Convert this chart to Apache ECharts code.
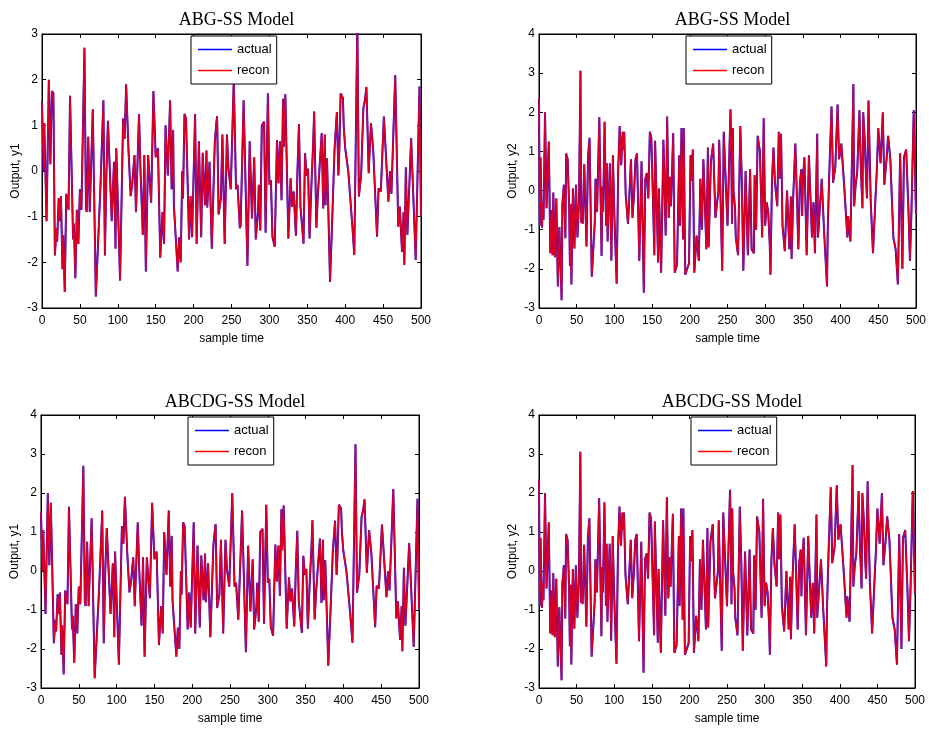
<!DOCTYPE html>
<html>
<head>
<meta charset="utf-8">
<script src="https://cdn.jsdelivr.net/npm/echarts@6/dist/echarts.min.js"></script>
<style>
html,body{margin:0;padding:0;background:#fff;}
#chart{width:929px;height:732px;}
</style>
</head>
<body>
<div id="chart"></div>
<script>
// ---- data (sample time, value) ----
var titles = ['ABG-SS Model', 'ABG-SS Model', 'ABCDG-SS Model', 'ABCDG-SS Model'];
var yNames = ['Output, y1', 'Output, y2', 'Output, y1', 'Output, y2'];
var xTicks = [0, 500, 50];
var yRanges = [[-3, 3], [-3, 4], [-3, 4], [-3, 4]];

var actualY1 = [[0,1.5],[2,0.0],[3,1.05],[6,-1.1],[9,2.0],[11,0.15],[13,1.75],[15,1.7],[17,-1.85],[19,-1.25],[20,-1.55],[22,-0.6],[23,-1.1],[25,-0.55],[27,-2.15],[28,-1.4],[30,-2.65],[32,-0.5],[35,-0.85],[37,1.65],[41,-1.5],[42,-1.15],[44,-2.35],[46,-0.85],[48,-1.6],[50,-0.4],[52,-0.85],[56,2.7],[58,-0.8],[59,-0.9],[61,0.75],[63,-0.9],[67,1.35],[71,-2.75],[77,-0.4],[81,1.55],[83,-1.85],[85,0.0],[87,1.1],[92,-1.1],[95,0.2],[97,-1.7],[98,0.5],[103,-2.4],[107,1.15],[109,0.7],[111,1.9],[114,0.5],[117,-0.55],[119,-0.3],[122,0.35],[124,-0.9],[128,1.25],[130,0.0],[133,-1.4],[135,0.35],[137,-2.2],[140,0.35],[144,-0.7],[147,1.75],[150,0.3],[153,0.5],[156,-1.9],[159,-0.9],[161,-1.6],[163,1.0],[166,-0.1],[169,1.55],[171,-0.4],[173,0.9],[174,-0.75],[179,-2.2],[181,-1.45],[183,-2.0],[185,0.0],[186,-0.6],[188,1.25],[190,1.15],[194,-1.5],[196,-0.55],[198,-1.45],[202,1.25],[204,-1.6],[207,0.65],[210,-1.45],[212,0.4],[215,-0.75],[217,0.45],[218,-0.8],[221,0.2],[224,-1.7],[228,0.65],[230,1.05],[231,1.2],[233,-0.95],[236,-0.6],[238,0.8],[241,-1.6],[244,0.8],[246,0.05],[249,-0.4],[253,2.0],[256,-0.4],[258,-0.3],[261,-1.25],[262,-1.2],[266,1.55],[271,-2.08],[274,0.65],[277,-1.04],[280,0.3],[282,-1.5],[285,-0.9],[286,-0.3],[288,-1.3],[290,1.0],[293,1.08],[295,-1.35],[298,1.7],[300,-0.3],[302,-0.2],[304,-1.44],[307,-1.66],[310,0.68],[312,-0.27],[314,0.65],[316,-0.64],[318,1.58],[319,0.53],[321,1.68],[325,-1.48],[326,-1.5],[328,-0.16],[330,-0.78],[332,-0.45],[335,-1.42],[337,0.0],[339,1.03],[341,-0.78],[345,-1.59],[347,0.39],[349,-0.1],[351,0.05],[353,-1.48],[355,-0.5],[358,0.72],[359,1.3],[362,-1.24],[364,-0.5],[369,0.83],[371,-0.82],[373,0.8],[374,-0.75],[376,0.28],[378,-1.04],[380,-2.43],[383,-1.0],[386,0.5],[389,1.29],[391,-0.1],[392,0.3],[394,1.7],[397,1.6],[398,1.0],[400,0.5],[404,0.0],[409,-1.1],[412,-1.84],[416,3.25],[418,-0.56],[421,-0.1],[424,1.38],[426,1.55],[428,1.84],[431,-0.05],[434,1.05],[437,0.45],[442,-1.44],[444,-0.38],[447,-0.45],[451,1.19],[453,1.15],[457,-0.67],[459,0.0],[461,-0.5],[466,2.1],[470,-1.22],[472,-0.78],[475,-1.77],[477,-0.9],[478,-2.06],[480,0.08],[482,-1.4],[485,-0.15],[487,0.72],[493,-1.95],[498,1.85],[500,-1.0]];

var actualY2 = [[0,2.35],[1,-0.9],[2,0.85],[4,-0.95],[5,-0.3],[6,-0.75],[8,2.0],[10,-0.45],[13,1.25],[15,-1.6],[17,-0.5],[18,-1.65],[19,-0.05],[21,-1.7],[23,-0.2],[25,-2.45],[27,-0.93],[30,-2.8],[31,-0.35],[33,0.15],[35,-1.22],[36,0.95],[38,0.8],[40,-0.4],[41,-1.93],[42,-0.35],[43,-2.4],[45,0.05],[47,-1.48],[49,0.15],[51,-1.2],[53,-0.3],[55,3.06],[56,-0.82],[57,-0.4],[58,-0.85],[60,0.67],[63,-1.43],[65,0.85],[67,1.35],[70,-2.2],[72,-2.2],[74,-0.8],[75,0.3],[77,-0.55],[80,1.87],[83,-1.67],[84,0.1],[85,-0.55],[87,1.76],[89,-0.9],[90,0.7],[91,-1.3],[94,0.7],[96,-1.79],[98,0.9],[100,-0.65],[103,-2.38],[105,0.5],[107,1.65],[109,0.65],[111,1.5],[112,1.05],[113,1.5],[115,-0.1],[118,-0.85],[119,-0.5],[122,0.8],[124,-0.7],[126,-0.1],[128,0.8],[130,0.95],[133,-1.8],[136,0.75],[139,-2.61],[141,0.3],[143,0.45],[145,-0.2],[147,1.5],[149,1.35],[151,-0.1],[153,-1.65],[154,1.27],[158,-1.84],[159,0.05],[162,-2.1],[165,1.3],[168,-1.15],[170,1.89],[172,-0.7],[174,0.35],[175,-0.4],[178,1.47],[180,-2.1],[183,-1.9],[186,0.9],[187,-0.9],[189,1.6],[191,-1.25],[192,1.6],[194,-2.15],[199,-1.85],[201,0.9],[202,0.25],[204,1.05],[206,-2.1],[209,-1.15],[212,-1.8],[214,0.3],[216,-1.0],[218,0.8],[222,-1.5],[224,1.1],[225,-1.45],[228,0.75],[231,1.2],[234,-0.7],[236,-0.65],[238,0.0],[239,1.3],[243,-2.05],[245,1.5],[250,-0.9],[254,2.08],[255,0.95],[256,-0.85],[257,1.6],[258,0.0],[260,-0.45],[261,-1.2],[264,-1.65],[267,1.65],[269,0.25],[271,-2.05],[274,0.5],[277,-1.65],[280,0.55],[282,-1.5],[285,-1.6],[286,0.4],[288,-1.0],[290,1.4],[293,1.0],[296,-1.2],[298,1.85],[300,-0.9],[302,-0.3],[304,-0.55],[306,-1.35],[307,-2.15],[309,0.25],[311,1.1],[313,0.2],[316,-0.4],[318,1.5],[319,0.3],[321,1.45],[323,-0.9],[326,-1.55],[329,0.0],[332,-1.5],[334,-0.15],[335,-1.75],[337,-0.25],[340,1.2],[342,-0.1],[344,-1.5],[346,0.2],[348,0.55],[349,-0.65],[350,0.25],[352,0.85],[355,-1.65],[358,0.9],[362,-1.2],[364,-0.3],[366,-1.6],[369,1.45],[370,-1.2],[372,-0.6],[375,0.3],[378,-1.0],[382,-2.45],[383,-0.95],[385,0.45],[388,2.15],[390,0.2],[393,0.6],[396,2.2],[398,0.8],[401,1.2],[405,0.05],[409,-1.2],[410,-0.65],[413,-1.3],[417,2.72],[418,-0.4],[420,0.15],[422,0.45],[425,2.05],[427,0.5],[429,-0.45],[430,2.0],[432,1.3],[434,0.2],[435,-0.2],[437,2.3],[440,-0.3],[443,-1.6],[446,-0.3],[448,0.5],[450,1.6],[453,0.7],[456,2.0],[458,0.15],[461,0.8],[463,1.4],[466,0.8],[470,-1.2],[473,-1.5],[476,-2.4],[479,0.95],[482,-2.0],[484,0.85],[487,1.05],[490,-0.5],[492,-1.8],[494,-0.5],[497,2.05],[500,-0.6]];

// reconstructions overlay the measured outputs (they coincide at this scale)
var reconY1 = actualY1;
var reconY2 = actualY2;
var panelActual = [actualY1, actualY2, actualY1, actualY2];
var panelRecon = [reconY1, reconY2, reconY1, reconY2];

// ---- layout ----
var grids = [
  {left: 42, top: 34, width: 379, height: 274},
  {left: 539, top: 34, width: 377, height: 274},
  {left: 41, top: 415, width: 378, height: 273},
  {left: 539, top: 415, width: 376, height: 273}
];
var legendPos = [[191, 36], [686, 36], [188, 417], [691, 417]];
var titleTop = [6, 6, 388, 388];

var sans = "'Liberation Sans', Arial, sans-serif";
var serif = "'Liberation Serif', 'Times New Roman', serif";

var option = {
  backgroundColor: '#fff',
  animation: false,
  title: [], grid: [], xAxis: [], yAxis: [], series: [], legend: []
};

grids.forEach(function (g, i) {
  option.grid.push({left: g.left, top: g.top, width: g.width, height: g.height,
    show: true, borderColor: '#000', borderWidth: 1, backgroundColor: '#fff'});
  option.title.push({text: titles[i], left: g.left + g.width / 2, top: titleTop[i], textAlign: 'center',
    textStyle: {fontFamily: serif, fontSize: 18, fontWeight: 'normal', color: '#000'}});
  var axLine = {show: true, onZero: false, lineStyle: {color: '#000', width: 1}};
  var axTick = {show: true, inside: true, length: 4, lineStyle: {color: '#000'}};
  // bottom x axis
  option.xAxis.push({type: 'value', gridIndex: i, position: 'bottom', min: xTicks[0], max: xTicks[1], interval: xTicks[2],
    name: 'sample time', nameLocation: 'middle', nameGap: 25,
    nameTextStyle: {fontFamily: sans, fontSize: 12, color: '#000'},
    axisLine: axLine, axisTick: axTick, splitLine: {show: false},
    axisLabel: {fontFamily: sans, fontSize: 12, color: '#000', margin: 7}});
  // top x axis (ticks only)
  option.xAxis.push({type: 'value', gridIndex: i, position: 'top', min: xTicks[0], max: xTicks[1], interval: xTicks[2],
    axisLine: axLine, axisTick: axTick, splitLine: {show: false}, axisLabel: {show: false}});
  // left y axis
  option.yAxis.push({type: 'value', gridIndex: i, position: 'left', min: yRanges[i][0], max: yRanges[i][1], interval: 1,
    name: yNames[i], nameLocation: 'middle', nameGap: 20,
    nameTextStyle: {fontFamily: sans, fontSize: 12, color: '#000'},
    axisLine: axLine, axisTick: axTick, splitLine: {show: false},
    axisLabel: {fontFamily: sans, fontSize: 12, color: '#000', margin: 4}});
  // right y axis (ticks only)
  option.yAxis.push({type: 'value', gridIndex: i, position: 'right', min: yRanges[i][0], max: yRanges[i][1], interval: 1,
    axisLine: axLine, axisTick: axTick, splitLine: {show: false}, axisLabel: {show: false}});

  option.series.push({name: 'actual', type: 'line', xAxisIndex: 2 * i, yAxisIndex: 2 * i,
    data: panelActual[i], showSymbol: false, symbol: 'none', clip: true,
    lineStyle: {color: '#0000ff', width: 2}, itemStyle: {color: '#0000ff'}, z: 2});
  option.series.push({name: 'recon', type: 'line', xAxisIndex: 2 * i, yAxisIndex: 2 * i,
    data: panelRecon[i], showSymbol: false, symbol: 'none', clip: true,
    lineStyle: {color: '#ff0000', width: 1.6, opacity: 0.85}, itemStyle: {color: '#ff0000'}, z: 3});

  option.legend.push({left: legendPos[i][0], top: legendPos[i][1], orient: 'vertical',
    data: [{name: 'actual', icon: 'rect'}, {name: 'recon', icon: 'rect'}],
    itemWidth: 34, itemHeight: 1.5, itemGap: 8, padding: [7, 5, 7, 7],
    borderColor: '#000', borderWidth: 1, backgroundColor: '#fff', selectedMode: false,
    textStyle: {fontFamily: sans, fontSize: 13, color: '#000', padding: [0, 0, 0, 0]}, z: 10});
});

var chart = echarts.init(document.getElementById('chart'), null, {renderer: 'canvas'});
chart.setOption(option);
</script>
</body>
</html>
